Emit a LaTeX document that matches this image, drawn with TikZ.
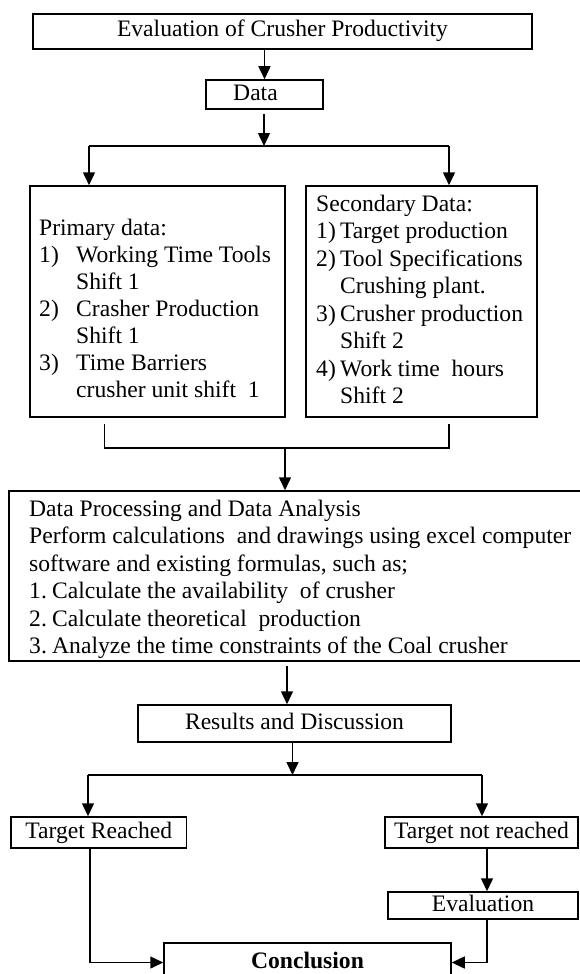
\documentclass[tikz,border=0pt]{standalone}
\usepackage{fontspec}
\setmainfont{Liberation Serif}
\usetikzlibrary{arrows.meta,calc}

\tikzset{
  box/.style={draw, line width=1.5pt, inner sep=0pt, text height=15.5pt, text depth=4.5pt,
              font=\fontsize{23.6}{27.5}\selectfont},
  txt/.style={inner sep=0pt, anchor=base west},
  link/.style={line width=1.5pt},
  arr/.style={line width=1.5pt, -{Triangle[width=12pt,length=13pt]}},
}

\begin{document}
\begin{tikzpicture}[x=1pt, y=-1pt]
\useasboundingbox (0,0) rectangle (579,974);

% boxes
\node[box, minimum width=499pt, minimum height=35pt] (title) at (282.5,31.5)
  {Evaluation of Crusher Productivity};
\node[box, minimum width=117pt, minimum height=29pt] (data) at (264.5,94.5)
  {Data\hspace*{18pt}};
\node[box, minimum width=255pt, minimum height=231pt] (prim) at (157.5,301.5) {};
\node[box, minimum width=231pt, minimum height=231pt] (sec) at (421.5,301.5) {};
\node[box, minimum width=580pt, minimum height=170pt] (proc) at (299,576) {};
\node[box, minimum width=313pt, minimum height=37pt] (res) at (294.5,723.5)
  {Results and Discussion};
\node[box, minimum width=175.5pt, minimum height=31pt] (reached) at (98.75,832.5)
  {Target Reached};
\node[box, minimum width=193pt, minimum height=31pt] (notr) at (481.5,832.5)
  {Target not reached};
\node[box, minimum width=190pt, minimum height=27pt] (eval) at (483,905.5)
  {Evaluation};
\node[box, minimum width=287pt, minimum height=39pt] (concl) at (307.5,962.5)
  {\bfseries Conclusion};

% box texts
\node[txt, font=\fontsize{23.6}{27}\selectfont] (primtext) at (39,235)
  {\begin{tabular}[t]{@{}l@{}}
   Primary data:\\
   \makebox[37pt][l]{1)}Working Time Tools\\
   \hspace*{37pt}Shift 1\\
   \makebox[37pt][l]{2)}Crasher Production\\
   \hspace*{37pt}Shift 1\\
   \makebox[37pt][l]{3)}Time Barriers\\
   \hspace*{37pt}crusher unit shift~ 1
   \end{tabular}};
\node[txt, font=\fontsize{23.6}{27.5}\selectfont] (sectext) at (316,211)
  {\begin{tabular}[t]{@{}l@{}}
   Secondary Data:\\
   \makebox[24pt][l]{1)}Target production\\
   \makebox[24pt][l]{2)}Tool Specifications\\
   \hspace*{24pt}Crushing plant.\\
   \makebox[24pt][l]{3)}Crusher production\\
   \hspace*{24pt}Shift 2\\
   \makebox[24pt][l]{4)}Work time~ hours\\
   \hspace*{24pt}Shift 2
   \end{tabular}};
\node[txt, font=\fontsize{23.6}{27.5}\selectfont] (proctext) at (29,516)
  {\begin{tabular}[t]{@{}l@{}}
   Data Processing and Data Analysis\\
   Perform calculations~ and drawings using excel computer\\
   software and existing formulas, such as;\\
   \makebox[23pt][l]{1.}Calculate the availability~ of crusher\\
   \makebox[23pt][l]{2.}Calculate theoretical~ production\\
   \makebox[23pt][l]{3.}Analyze the time constraints of the Coal crusher
   \end{tabular}};

% branch and junction points
\coordinate (split)  at (264,146);
\coordinate (splitL) at (89,146);
\coordinate (splitR) at (449,146);
\coordinate (mergeL) at (104.5,448);
\coordinate (mergeR) at (449,448);
\coordinate (mergeM) at (285,448);
\coordinate (prx)    at (287,680);
\coordinate (split2) at (292.5,775);
\coordinate (s2L)    at (88,775);
\coordinate (s2R)    at (482,775);
\coordinate (evx)    at (487,880);
\coordinate (rx)     at (90,900);

% connectors
\draw[arr] (title.south -| data.north) -- (data.north);
\draw[arr, shorten <=4pt] (data.south -| split) -- (split);
\draw[link] (splitL) -- (splitR);
\draw[arr] (splitL) -- (splitL |- prim.north);
\draw[arr] (splitR) -- (splitR |- sec.north);

\draw[link] ($(mergeL |- prim.south)+(0,6)$) -- (mergeL) -- (mergeR)
            -- ($(mergeR |- sec.south)+(0,6)$);
\draw[arr] (mergeM) -- (mergeM |- proc.north);

\draw[arr, shorten <=4pt] (proc.south -| prx) -- (res.north -| prx);
\draw[arr] (res.south -| split2) -- (split2);
\draw[link] (s2L) -- (s2R);
\draw[arr] (s2L) -- (s2L |- reached.north);
\draw[arr] (s2R) -- (s2R |- notr.north);

\draw[arr] (notr.south -| evx) -- (eval.north -| evx);
\draw[arr] (eval.south -| evx) |- (concl.east);
\draw[arr] (reached.south -| rx) |- (concl.west);
\end{tikzpicture}
\end{document}
